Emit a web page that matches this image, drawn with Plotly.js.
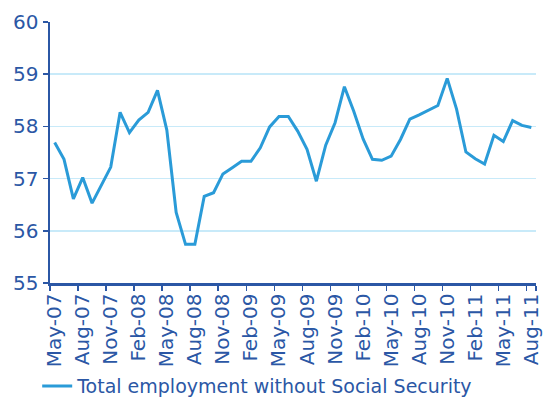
<!DOCTYPE html>
<html>
<head>
<meta charset="utf-8">
<script src="https://cdn.plot.ly/plotly-3.0.1.min.js"></script>
<style>html,body{margin:0;padding:0;background:#fff}#chart{width:547px;height:400px}</style>
</head>
<body>
<div id="chart"></div>
<script>
var months = ["May-07","Jun-07","Jul-07","Aug-07","Sep-07","Oct-07","Nov-07","Dec-07",
  "Jan-08","Feb-08","Mar-08","Apr-08","May-08","Jun-08","Jul-08","Aug-08","Sep-08","Oct-08","Nov-08","Dec-08",
  "Jan-09","Feb-09","Mar-09","Apr-09","May-09","Jun-09","Jul-09","Aug-09","Sep-09","Oct-09","Nov-09","Dec-09",
  "Jan-10","Feb-10","Mar-10","Apr-10","May-10","Jun-10","Jul-10","Aug-10","Sep-10","Oct-10","Nov-10","Dec-10",
  "Jan-11","Feb-11","Mar-11","Apr-11","May-11","Jun-11","Jul-11","Aug-11"];
var employment = [57.69,57.37,56.61,57.02,56.53,56.87,57.22,58.27,
  57.88,58.12,58.27,58.69,57.93,56.35,55.74,55.74,56.66,56.73,57.09,57.21,
  57.33,57.33,57.59,57.99,58.19,58.19,57.91,57.56,56.95,57.64,58.07,58.76,
  58.29,57.76,57.37,57.35,57.43,57.75,58.14,58.22,58.31,58.40,58.92,58.33,
  57.51,57.38,57.28,57.83,57.71,58.11,58.02,57.98];
var tickLabels = ["May-07","Aug-07","Nov-07","Feb-08","May-08","Aug-08","Nov-08","Feb-09","May-09","Aug-09","Nov-09","Feb-10","May-10","Aug-10","Nov-10","Feb-11","May-11","Aug-11"];
var yTicks = [55,56,57,58,59,60];
var seriesName = "Total employment without Social Security";

var dark = "#2b57a5";
var trace = {
  x: months, y: employment, type: "scatter", mode: "lines", name: seriesName,
  line: {color: "#2a9bd8", width: 3}
};
var layout = {
  width: 547, height: 400,
  margin: {l: 50, r: 11, t: 22, b: 117},
  paper_bgcolor: "#fff", plot_bgcolor: "#fff",
  font: {family: "DejaVu Sans, sans-serif", color: dark},
  showlegend: true,
  legend: {orientation: "h", xref: "container", yref: "container",
    x: 0.068, y: 0.082, xanchor: "left", yanchor: "top",
    font: {size: 19, color: dark}},
  xaxis: {
    type: "category", tickmode: "array", tickvals: tickLabels, ticktext: tickLabels,
    tickson: "boundaries",
    tickangle: -90, tickfont: {size: 20, color: dark},
    showgrid: false, showline: true, linecolor: dark, linewidth: 2.5,
    ticks: "outside", ticklen: 5, tickcolor: dark, tickwidth: 1.5,
    range: [-0.5, months.length - 0.5]
  },
  yaxis: {
    range: [55, 60], tickvals: yTicks, tickfont: {size: 20, color: dark},
    showgrid: true, gridcolor: "#c8eaf9", gridwidth: 1.5,
    showline: true, linecolor: dark, linewidth: 2.5,
    ticks: "outside", ticklen: 5, tickcolor: dark, tickwidth: 1.5,
    zeroline: false
  }
};
Plotly.newPlot("chart", [trace], layout, {displayModeBar: false, staticPlot: true});
</script>
</body>
</html>
